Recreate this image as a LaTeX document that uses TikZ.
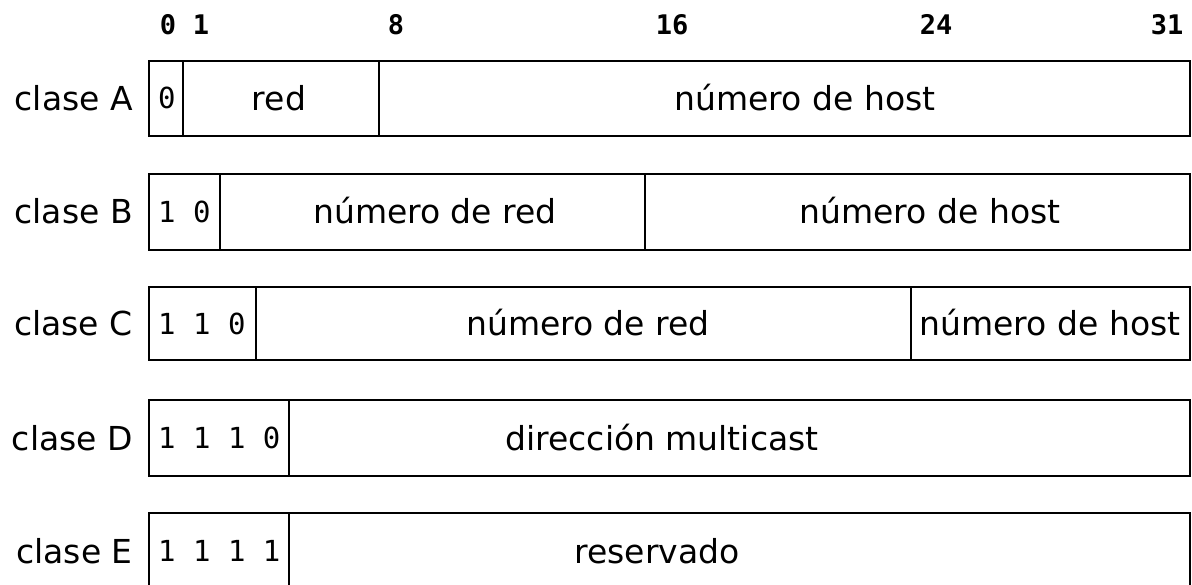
\documentclass[tikz,border=0pt]{standalone}
\usepackage{fontspec}
\setmainfont{DejaVu Sans}
\newfontfamily\monof{DejaVu Sans Mono}
\begin{document}
\begin{tikzpicture}[x=1bp,y=-1bp,
  field/.style={draw=black,line width=2bp},
  lbl/.style={inner sep=0pt,anchor=center,text height=24bp,text depth=0pt,font=\fontsize{33bp}{40bp}\selectfont},
  cls/.style={lbl,anchor=east},
  bits/.style={inner sep=0pt,anchor=west,text height=21bp,text depth=0pt,font=\monof\fontsize{29bp}{35bp}\selectfont},
  hdr/.style={inner sep=0pt,anchor=center,text height=20bp,text depth=0pt,font=\monof\bfseries\fontsize{27bp}{32bp}\selectfont}]
\useasboundingbox (0,0) rectangle (1192,585);
\clip (0,0) rectangle (1192,585);
% header
\node[hdr] (h0) at (168,25) {0};
\node[hdr] (h1) at (201,25) {1};
\node[hdr] (h8) at (396,25) {8};
\node[hdr] (h16) at (672,25) {16};
\node[hdr] (h24) at (936,25) {24};
\node[hdr] (h31) at (1167,25) {31};
% class A
\draw[field] (149,61) rectangle (183,136);
\draw[field] (183,61) rectangle (379,136);
\draw[field] (379,61) rectangle (1190,136);
\node[cls] (cA) at (133,98.5) {clase A};
\node[bits] (bA) at (158,98.5) {0};
\node[lbl] (rA) at (279,98.5) {red};
\node[lbl] (hA) at (805,98.5) {número de host};
% class B
\draw[field] (149,174) rectangle (220,250);
\draw[field] (220,174) rectangle (645,250);
\draw[field] (645,174) rectangle (1190,250);
\node[cls] (cB) at (133,212) {clase B};
\node[bits] (bB) at (158,212) {1 0};
\node[lbl] (rB) at (435,212) {número de red};
\node[lbl] (hB) at (930,212) {número de host};
% class C
\draw[field] (149,287) rectangle (256,360);
\draw[field] (256,287) rectangle (911,360);
\draw[field] (911,287) rectangle (1190,360);
\node[cls] (cC) at (133,323.5) {clase C};
\node[bits] (bC) at (158,323.5) {1 1 0};
\node[lbl] (rC) at (588,323.5) {número de red};
\node[lbl] (hC) at (1050,323.5) {número de host};
% class D
\draw[field] (149,400) rectangle (289,476);
\draw[field] (289,400) rectangle (1190,476);
\node[cls] (cD) at (133,438) {clase D};
\node[bits] (bD) at (158,438) {1 1 1 0};
\node[lbl] (mD) at (662,438) {dirección multicast};
% class E
\draw[field] (149,513) rectangle (289,589);
\draw[field] (289,513) rectangle (1190,589);
\node[cls] (cE) at (133,551) {clase E};
\node[bits] (bE) at (158,551) {1 1 1 1};
\node[lbl] (rE) at (657,551) {reservado};
\end{tikzpicture}
\end{document}
